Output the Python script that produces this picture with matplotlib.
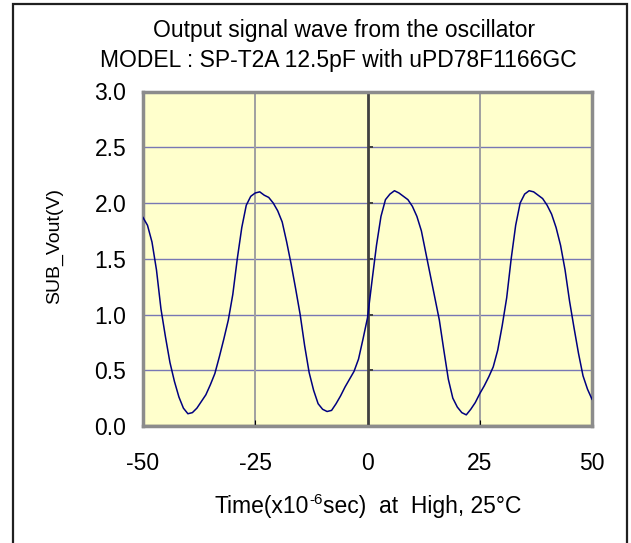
import matplotlib
matplotlib.use('Agg')
import matplotlib.pyplot as plt
from matplotlib.patches import Rectangle

# ---- data ----
time_us = list(range(-50, 51))
vout = [
    1.87, 1.80, 1.65, 1.40, 1.05, 0.80, 0.57, 0.40, 0.26, 0.16,   # -50..-41
    0.11, 0.12, 0.16, 0.22, 0.28, 0.37, 0.47, 0.62, 0.78, 0.95,   # -40..-31
    1.18, 1.50, 1.78, 1.98, 2.06, 2.09, 2.10, 2.07, 2.05, 2.00,   # -30..-21
    1.93, 1.83, 1.65, 1.45, 1.23, 1.00, 0.72, 0.48, 0.32, 0.20,   # -20..-11
    0.15, 0.13, 0.14, 0.20, 0.27, 0.35, 0.42, 0.49, 0.60, 0.78,   # -10..-1
    0.97, 1.30, 1.62, 1.88, 2.03, 2.08, 2.11, 2.09, 2.06, 2.03,   # 0..9
    1.97, 1.88, 1.75, 1.55, 1.35, 1.15, 0.95, 0.68, 0.42, 0.25,   # 10..19
    0.17, 0.12, 0.10, 0.15, 0.21, 0.29, 0.36, 0.44, 0.53, 0.68,   # 20..29
    0.90, 1.15, 1.50, 1.80, 2.00, 2.08, 2.11, 2.10, 2.07, 2.04,   # 30..39
    1.98, 1.90, 1.78, 1.62, 1.40, 1.12, 0.88, 0.65, 0.45, 0.33,   # 40..49
    0.24,                                                         # 50
]
xticks = [-50, -25, 0, 25, 50]
xticklabels = ['-50', '-25', '0', '25', '50']
yticks = [0.0, 0.5, 1.0, 1.5, 2.0, 2.5, 3.0]
yticklabels = ['0.0', '0.5', '1.0', '1.5', '2.0', '2.5', '3.0']
title1 = 'Output signal wave from the oscillator'
title2 = 'MODEL : SP-T2A 12.5pF with uPD78F1166GC'
xlabel_parts = ['Time(x10', '-6', 'sec)  at  High, 25°C']
ylabel = 'SUB_Vout(V)'

plt.rcParams['font.family'] = ['Liberation Sans', 'DejaVu Sans']

W, H = 631, 543
fig = plt.figure(figsize=(W / 100, H / 100), dpi=100)


def fx(px):
    return px / W


def fy(py):
    return 1 - py / H


L, R, T, B = 143, 592, 91.5, 426
ax = fig.add_axes([fx(L), fy(B), (R - L) / W, (B - T) / H])
ax.set_facecolor('#FFFFCC')
ax.set_xlim(-50, 50)
ax.set_ylim(0, 3)

for y in yticks[1:-1]:
    ax.axhline(y, color='#7878B4', lw=1.0, zorder=1)
for x in [-25, 25]:
    ax.axvline(x, color='#A0A0A0', lw=1.4, zorder=1)
ax.axvline(0, color='#404040', lw=2.0, zorder=2)
ax.axhline(0, color='black', lw=1.6, zorder=2)
for y in yticks:
    ax.plot([0, 1.2], [y, y], color='#404040', lw=1.4, zorder=2,
            solid_capstyle='butt')

ax.plot(time_us, vout, color='#000080', lw=1.1, zorder=3)

for s in ax.spines.values():
    s.set_color('#8C8C8C')
    s.set_linewidth(2.5)

ax.set_xticks(xticks)
ax.set_xticklabels(xticklabels)
ax.set_yticks(yticks)
ax.set_yticklabels(yticklabels)
ax.tick_params(axis='y', length=0, pad=12, labelsize=16.5)
ax.tick_params(axis='x', direction='in', length=4, color='black',
               pad=19, labelsize=16.5)

fig.text(fx(344), fy(37), title1, ha='center', va='baseline', fontsize=16.5)
fig.text(fx(338.5), fy(67), title2, ha='center', va='baseline', fontsize=16.5)
fig.text(fx(55), fy(246), ylabel, ha='center', va='center', rotation=90,
         fontsize=14)

# x label with a real superscript built from three text pieces
fig.canvas.draw()
renderer = fig.canvas.get_renderer()
sizes = [16.5, 11, 16.5]
raises = [0, 9, 0]
tmp = [fig.text(0, 0, p, fontsize=s) for p, s in zip(xlabel_parts, sizes)]
widths = [t.get_window_extent(renderer).width for t in tmp]
for t in tmp:
    t.remove()
total = sum(widths)
x0 = 368 - total / 2
for p, s, r, w in zip(xlabel_parts, sizes, raises, widths):
    fig.text(fx(x0), fy(513 - r), p, fontsize=s, ha='left', va='baseline')
    x0 += w

fig.patches.append(Rectangle((fx(13), fy(548)), (627 - 13) / W, (548 - 4) / H,
                             transform=fig.transFigure, fill=False,
                             ec='#202020', lw=1.6))

fig.savefig('out.png', dpi=100)
